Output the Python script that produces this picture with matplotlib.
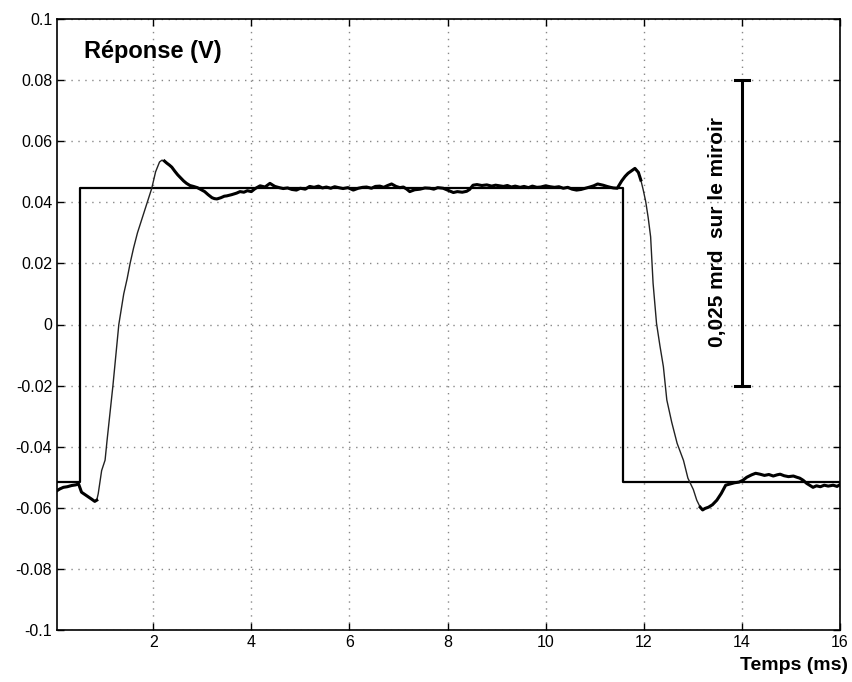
import numpy as np
import matplotlib
matplotlib.use('Agg')
import matplotlib.pyplot as plt

plt.rcParams['font.family'] = ['Liberation Sans', 'DejaVu Sans']

# consigne (creneau)
t_cons = [0.04, 0.5, 0.5, 11.58, 11.58, 16.0]
v_cons = [-0.0515, -0.0515, 0.0446, 0.0446, -0.0515, -0.0515]

t_rep = [0.04, 0.10, 0.17, 0.25, 0.34, 0.42, 0.48, 0.54, 0.64, 0.74, 0.81, 0.85,
         0.88, 0.91, 0.95, 1.02, 1.06, 1.12, 1.18, 1.24, 1.30, 1.35, 1.40, 1.47,
         1.53, 1.60, 1.68, 1.78, 1.88, 1.97, 2.05, 2.13, 2.18, 2.23, 2.28, 2.33,
         2.38, 2.44, 2.50, 2.56, 2.62, 2.68, 2.75, 2.82, 2.90, 2.96, 3.05, 3.12,
         3.20, 3.25, 3.30, 3.38, 3.45, 3.50, 3.60, 3.70, 3.77, 3.85, 3.92, 4.00,
         4.08, 4.18, 4.28, 4.38, 4.48, 4.57, 4.65, 4.74, 4.83, 4.92, 5.00, 5.10,
         5.19, 5.28, 5.37, 5.45, 5.53, 5.62, 5.70, 5.78, 5.87, 5.97, 6.08, 6.18,
         6.27, 6.35, 6.45, 6.53, 6.62, 6.70, 6.78, 6.86, 6.95, 7.03, 7.10, 7.17,
         7.23, 7.33, 7.44, 7.54, 7.64, 7.72, 7.80, 7.91, 8.00, 8.06, 8.12, 8.20,
         8.30, 8.39, 8.45, 8.52, 8.60, 8.70, 8.80, 8.90, 8.98, 9.06, 9.14, 9.22,
         9.30, 9.38, 9.48, 9.56, 9.65, 9.73, 9.82, 9.90, 10.00, 10.09, 10.18,
         10.27, 10.36, 10.45, 10.54, 10.63, 10.72, 10.81, 10.90, 10.98, 11.06,
         11.17, 11.25, 11.32, 11.38, 11.46, 11.55, 11.62, 11.68, 11.75, 11.82,
         11.89, 11.94, 11.99, 12.04, 12.09, 12.14, 12.19, 12.26, 12.33, 12.40,
         12.47, 12.57, 12.68, 12.81, 12.90, 13.01, 13.08, 13.15, 13.20, 13.25,
         13.32, 13.40, 13.49, 13.58, 13.67, 13.76, 13.85, 13.94, 14.02, 14.10,
         14.20, 14.28, 14.37, 14.46, 14.55, 14.64, 14.72, 14.78, 14.86, 14.95,
         15.05, 15.12, 15.18, 15.25, 15.32, 15.40, 15.45, 15.52, 15.60, 15.68,
         15.76, 15.86, 15.94, 16.00]
v_rep = [-0.0544, -0.0538, -0.0533, -0.0531, -0.0527, -0.0525, -0.0522, -0.0549,
         -0.0560, -0.0571, -0.0579, -0.0575, -0.0554, -0.0522, -0.0478, -0.0444,
         -0.0380, -0.0290, -0.0200, -0.0100, 0.0000, 0.0050, 0.0100, 0.0150,
         0.0200, 0.0250, 0.0300, 0.0350, 0.0400, 0.0445, 0.0500, 0.0532, 0.0538,
         0.0535, 0.0528, 0.0522, 0.0515, 0.0502, 0.0490, 0.0480, 0.0470, 0.0462,
         0.0455, 0.0452, 0.0448, 0.0443, 0.0435, 0.0425, 0.0415, 0.0412, 0.0411,
         0.0415, 0.0420, 0.0421, 0.0425, 0.0430, 0.0435, 0.0433, 0.0438, 0.0435,
         0.0445, 0.0454, 0.0450, 0.0462, 0.0452, 0.0448, 0.0445, 0.0447, 0.0442,
         0.0440, 0.0446, 0.0443, 0.0452, 0.0449, 0.0453, 0.0447, 0.0450, 0.0446,
         0.0451, 0.0448, 0.0445, 0.0448, 0.0440, 0.0446, 0.0449, 0.0450, 0.0446,
         0.0452, 0.0453, 0.0449, 0.0455, 0.0460, 0.0452, 0.0448, 0.0450, 0.0443,
         0.0435, 0.0441, 0.0443, 0.0447, 0.0446, 0.0443, 0.0448, 0.0446, 0.0440,
         0.0436, 0.0432, 0.0435, 0.0433, 0.0436, 0.0442, 0.0456, 0.0458, 0.0455,
         0.0457, 0.0453, 0.0456, 0.0454, 0.0452, 0.0455, 0.0450, 0.0453, 0.0449,
         0.0452, 0.0448, 0.0453, 0.0449, 0.0450, 0.0454, 0.0451, 0.0449, 0.0451,
         0.0446, 0.0449, 0.0443, 0.0440, 0.0442, 0.0446, 0.0450, 0.0454, 0.0460,
         0.0456, 0.0452, 0.0449, 0.0447, 0.0446, 0.0470, 0.0485, 0.0495, 0.0503,
         0.0511, 0.0498, 0.0473, 0.0440, 0.0402, 0.0350, 0.0287, 0.0135, 0.0004,
         -0.0070, -0.0138, -0.0247, -0.0320, -0.0389, -0.0445, -0.0503, -0.0540,
         -0.0575, -0.0598, -0.0607, -0.0602, -0.0598, -0.0590, -0.0575, -0.0553,
         -0.0526, -0.0522, -0.0518, -0.0516, -0.0510, -0.0500, -0.0492, -0.0487,
         -0.0490, -0.0494, -0.0491, -0.0496, -0.0492, -0.0490, -0.0495, -0.0498,
         -0.0496, -0.0500, -0.0503, -0.0510, -0.0520, -0.0528, -0.0533, -0.0528,
         -0.0531, -0.0526, -0.0529, -0.0526, -0.0530, -0.0524]

y_ticks = [-0.1, -0.08, -0.06, -0.04, -0.02, 0, 0.02, 0.04, 0.06, 0.08, 0.1]
y_labels = ['-0.1', '-0.08', '-0.06', '-0.04', '-0.02', '0', '0.02', '0.04',
            '0.06', '0.08', '0.1']
x_ticks = [2, 4, 6, 8, 10, 12, 14, 16]

# barre d'echelle
bar_x = 14.0
bar_y = [-0.02, 0.08]

fig = plt.figure(figsize=(8.53, 6.82), dpi=100)
ax = fig.add_axes([57 / 853, 52 / 682, 783 / 853, 611 / 682])

ax.plot(t_cons, v_cons, color='black', lw=1.6)

t = np.array(t_rep)
v = np.array(v_rep)
ax.plot(t, v, color='#222222', lw=1.0)
# parties plates plus epaisses (bruit)
for lo, hi in [(0.0, 0.86), (2.2, 11.95), (13.1, 16.1)]:
    m = (t >= lo) & (t <= hi)
    ax.plot(t[m], v[m], color='black', lw=2.2, solid_joinstyle='round')

# barre verticale
ax.plot([bar_x, bar_x], bar_y, color='black', lw=2.2)
for yb in bar_y:
    ax.plot([bar_x - 0.15, bar_x + 0.15], [yb, yb], color='black', lw=2.2)
ax.text(13.51, 0.0303, '0,025 mrd  sur le miroir', rotation=90, ha='center',
        va='center', fontsize=15, fontweight='bold')

ax.text(0.59, 0.0892, 'Réponse (V)', ha='left', va='center', fontsize=17,
        fontweight='bold')
fig.text(848 / 853, 1 - 665 / 682, 'Temps (ms)', ha='right', va='center',
         fontsize=14, fontweight='bold')

ax.set_xlim(0.04, 16)
ax.set_ylim(-0.1, 0.1)
ax.set_xticks(x_ticks)
ax.set_xticklabels([str(x) for x in x_ticks])
ax.set_yticks(y_ticks)
ax.set_yticklabels(y_labels)
ax.tick_params(direction='in', length=5, top=True, right=True, labelsize=11.5,
               width=1)
ax.grid(True, linestyle=(0, (1, 4)), color='#888888', lw=1.0)
for s in ax.spines.values():
    s.set_linewidth(1.2)

fig.savefig('out.png', dpi=100)
